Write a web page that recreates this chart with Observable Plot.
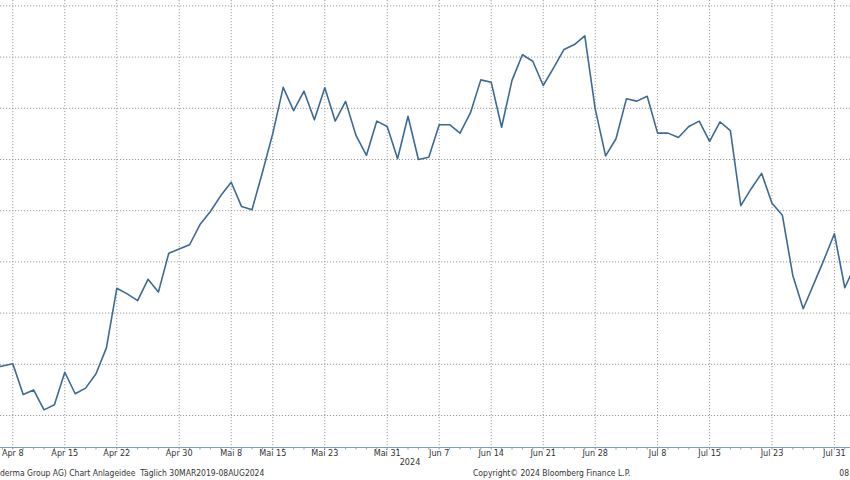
<!DOCTYPE html>
<html><head><meta charset="utf-8">
<script src="https://cdn.jsdelivr.net/npm/d3@7"></script>
<script src="https://cdn.jsdelivr.net/npm/@observablehq/plot@0.6"></script>
<style>
body{margin:0;background:#fff;}
#wrap{position:relative;width:850px;height:480px;overflow:hidden;font-family:Tahoma,"DejaVu Sans Condensed","Liberation Sans",sans-serif;}
#wrap svg{display:block;}
.t{position:absolute;font-size:9px;color:#333;white-space:pre;line-height:11px;}
.f{font-size:8.5px;}
</style></head><body>
<div id="wrap"></div>
<script>
// trading days (SIX), Galderma Group AG closing prices (CHF)
const dates = [
 "2024-04-04","2024-04-05","2024-04-08","2024-04-09","2024-04-10","2024-04-11","2024-04-12",
 "2024-04-15","2024-04-16","2024-04-17","2024-04-18","2024-04-19","2024-04-22","2024-04-23",
 "2024-04-24","2024-04-25","2024-04-26","2024-04-29","2024-04-30",
 "2024-05-02","2024-05-03","2024-05-06","2024-05-07","2024-05-08","2024-05-10","2024-05-13",
 "2024-05-14","2024-05-15","2024-05-16","2024-05-17","2024-05-21","2024-05-22","2024-05-23",
 "2024-05-24","2024-05-27","2024-05-28","2024-05-29","2024-05-30","2024-05-31",
 "2024-06-03","2024-06-04","2024-06-05","2024-06-06","2024-06-07","2024-06-10","2024-06-11",
 "2024-06-12","2024-06-13","2024-06-14","2024-06-17","2024-06-18","2024-06-19","2024-06-20",
 "2024-06-21","2024-06-24","2024-06-25","2024-06-26","2024-06-27","2024-06-28",
 "2024-07-01","2024-07-02","2024-07-03","2024-07-04","2024-07-05","2024-07-08","2024-07-09",
 "2024-07-10","2024-07-11","2024-07-12","2024-07-15","2024-07-16","2024-07-17","2024-07-18",
 "2024-07-19","2024-07-22","2024-07-23","2024-07-24","2024-07-25","2024-07-26","2024-07-29",
 "2024-07-30","2024-07-31","2024-08-02","2024-08-05"
];
const prices = [
 61.88,61.93,62.02,60.82,61.00,60.22,60.42,
 61.69,60.85,61.07,61.63,62.64,64.97,64.75,
 64.49,65.32,64.82,66.34,66.50,
 66.67,67.46,67.97,68.59,69.11,68.16,68.04,
 69.49,71.02,72.82,71.91,72.67,71.55,72.80,
 71.50,72.27,70.94,70.16,71.50,71.29,
 70.03,71.69,70.00,70.09,71.36,71.36,71.03,
 71.82,73.11,73.02,71.26,73.09,74.09,73.84,
 72.89,73.58,74.30,74.49,74.83,71.98,
 70.14,70.81,72.37,72.28,72.47,71.03,71.03,
 70.86,71.29,71.50,70.71,71.47,71.13,68.20,
 68.86,69.46,68.29,67.82,65.47,64.17,65.12,
 66.09,67.10,64.99,65.88
];
const tickDates = ["2024-04-08","2024-04-15","2024-04-22","2024-04-30","2024-05-08","2024-05-15",
 "2024-05-23","2024-05-31","2024-06-07","2024-06-14","2024-06-21","2024-06-28","2024-07-08",
 "2024-07-15","2024-07-23","2024-07-31"];
const tickLabels = ["Apr 8","Apr 15","Apr 22","Apr 30","Mai 8","Mai 15","Mai 23","Mai 31",
 "Jun 7","Jun 14","Jun 21","Jun 28","Jul 8","Jul 15","Jul 23","Jul 31"];
const yGridValues = [60,62,64,66,68,70,72,74,76];
const yearLabel = "2024";
const footLeft = "derma Group AG) Chart Anlageidee  Täglich 30MAR2019-08AUG2024";
const footMid = "Copyright\u00A9 2024 Bloomberg Finance L.P.";
const footRight = "08";

const data = dates.map((d, i) => ({i, date: d, v: prices[i]}));
const tickIdx = tickDates.map(d => dates.indexOf(d));
const labelMap = new Map(tickIdx.map((k, j) => [k, tickLabels[j]]));
const allIdx = dates.map((d, i) => i);

const W = 850, H = 467, MB = 20;
const pxPerDay = 10.4, firstTickPx = 12.3;
const i0 = tickIdx[0];
const xDomain = [i0 - firstTickPx / pxPerDay, i0 + (W - firstTickPx) / pxPerDay];
const pxPerUnit = 25.6, y60px = 415;
const yDomain = [60 - ((H - MB) - y60px) / pxPerUnit, 60 + y60px / pxPerUnit];

const axisColor = "#7f9fc0";
const gridStyle = {stroke: "#9a9a9a", strokeOpacity: 1, strokeDasharray: "1.2,1.8", strokeWidth: 1};

const chart = Plot.plot({
  width: W, height: H,
  marginLeft: 0, marginRight: 0, marginTop: 0, marginBottom: MB,
  style: {fontFamily: 'Tahoma,"DejaVu Sans Condensed","Liberation Sans",sans-serif', fontSize: "9px", color: "#333", background: "#fff"},
  x: {type: "linear", domain: xDomain, axis: null},
  y: {domain: yDomain, axis: null},
  marks: [
    Plot.gridY(yGridValues, gridStyle),
    Plot.gridX(tickIdx, gridStyle),
    Plot.axisX(allIdx, {tickSize: 2.5, tickFormat: () => "", stroke: axisColor, label: null}),
    Plot.axisX(tickIdx, {tickSize: 0, tickPadding: 2.5, tickFormat: k => labelMap.get(k), fill: "#333", label: null}),
    Plot.ruleY([yDomain[0]], {stroke: axisColor, strokeWidth: 1}),
    Plot.line(data, {x: "i", y: "v", stroke: "#3c6a95", strokeWidth: 1.6, clip: true})
  ]
});
const wrap = document.getElementById("wrap");
wrap.appendChild(chart);

function addText(txt, left, top, cls, center, right) {
  const d = document.createElement("div");
  d.className = "t " + cls;
  d.textContent = txt;
  d.style.top = top + "px";
  if (right != null) d.style.right = right + "px"; else d.style.left = left + "px";
  if (center) d.style.transform = "translateX(-50%)";
  wrap.appendChild(d);
}
addText(yearLabel, 410, 457, "", true);
addText(footLeft, 0, 468, "f", false);
addText(footMid, 473, 468, "f", false);
addText(footRight, null, 468, "f", false, 1);
</script>
</body></html>
